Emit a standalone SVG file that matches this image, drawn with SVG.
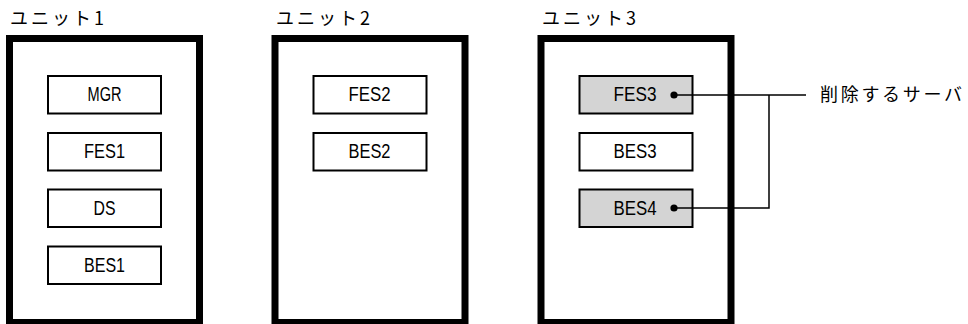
<svg xmlns="http://www.w3.org/2000/svg" width="968" height="324" viewBox="0 0 968 324">
<style>
.frame{fill:#fff;stroke:#000;stroke-width:7}
.box{fill:#fff;stroke:#000;stroke-width:2}
.del{fill:#d4d4d4}
.lbl{font-family:"Noto Sans CJK JP","Noto Sans",sans-serif;font-size:18px;letter-spacing:3px;fill:#000}
.t{font-family:"Liberation Sans",Arial,sans-serif;font-size:20px;fill:#000;text-anchor:middle}
.conn{fill:none;stroke:#000;stroke-width:1.5}
</style>
<rect width="968" height="324" fill="#fff"/>
<g id="unit1">
<text class="lbl" x="10" y="25">ユニット1</text>
<rect class="frame" x="9.5" y="38.5" width="190" height="284"/>
</g>
<g id="unit2">
<text class="lbl" x="276" y="25">ユニット2</text>
<rect class="frame" x="275" y="38.5" width="190" height="284"/>
</g>
<g id="unit3">
<text class="lbl" x="542" y="25">ユニット3</text>
<rect class="frame" x="541" y="38.5" width="190" height="284"/>
</g>
<g id="MGR"><rect class="box" x="48" y="76" width="113" height="37.5"/><text class="t" x="104.5" y="101" textLength="34" lengthAdjust="spacingAndGlyphs">MGR</text></g>
<g id="FES1"><rect class="box" x="48" y="133" width="113" height="37.5"/><text class="t" x="104.5" y="158" textLength="41" lengthAdjust="spacingAndGlyphs">FES1</text></g>
<g id="DS"><rect class="box" x="48" y="189.5" width="113" height="37.5"/><text class="t" x="104.5" y="215" textLength="22" lengthAdjust="spacingAndGlyphs">DS</text></g>
<g id="BES1"><rect class="box" x="48" y="246.5" width="113" height="37.5"/><text class="t" x="104.5" y="272" textLength="41" lengthAdjust="spacingAndGlyphs">BES1</text></g>
<g id="FES2"><rect class="box" x="313.5" y="76" width="113" height="37.5"/><text class="t" x="369.5" y="101" textLength="42" lengthAdjust="spacingAndGlyphs">FES2</text></g>
<g id="BES2"><rect class="box" x="313.5" y="133" width="113" height="37.5"/><text class="t" x="369.5" y="158" textLength="42" lengthAdjust="spacingAndGlyphs">BES2</text></g>
<g id="FES3"><rect class="box del" x="579.5" y="76" width="113" height="37.5"/><text class="t" x="635" y="101" textLength="43" lengthAdjust="spacingAndGlyphs">FES3</text><circle cx="674" cy="95" r="3.6"/></g>
<g id="BES3"><rect class="box" x="579.5" y="133" width="113" height="37.5"/><text class="t" x="635" y="158" textLength="43" lengthAdjust="spacingAndGlyphs">BES3</text></g>
<g id="BES4"><rect class="box del" x="579.5" y="189.5" width="113" height="37.5"/><text class="t" x="635" y="215" textLength="43" lengthAdjust="spacingAndGlyphs">BES4</text><circle cx="674" cy="208" r="3.6"/></g>
<g id="connectors">
<path class="conn" d="M674,95 H806 M769,95 V208 H674"/>
</g>
<g id="note"><text class="lbl" x="820" y="101" style="letter-spacing:2.7px">削除するサーバ</text></g>
</svg>
